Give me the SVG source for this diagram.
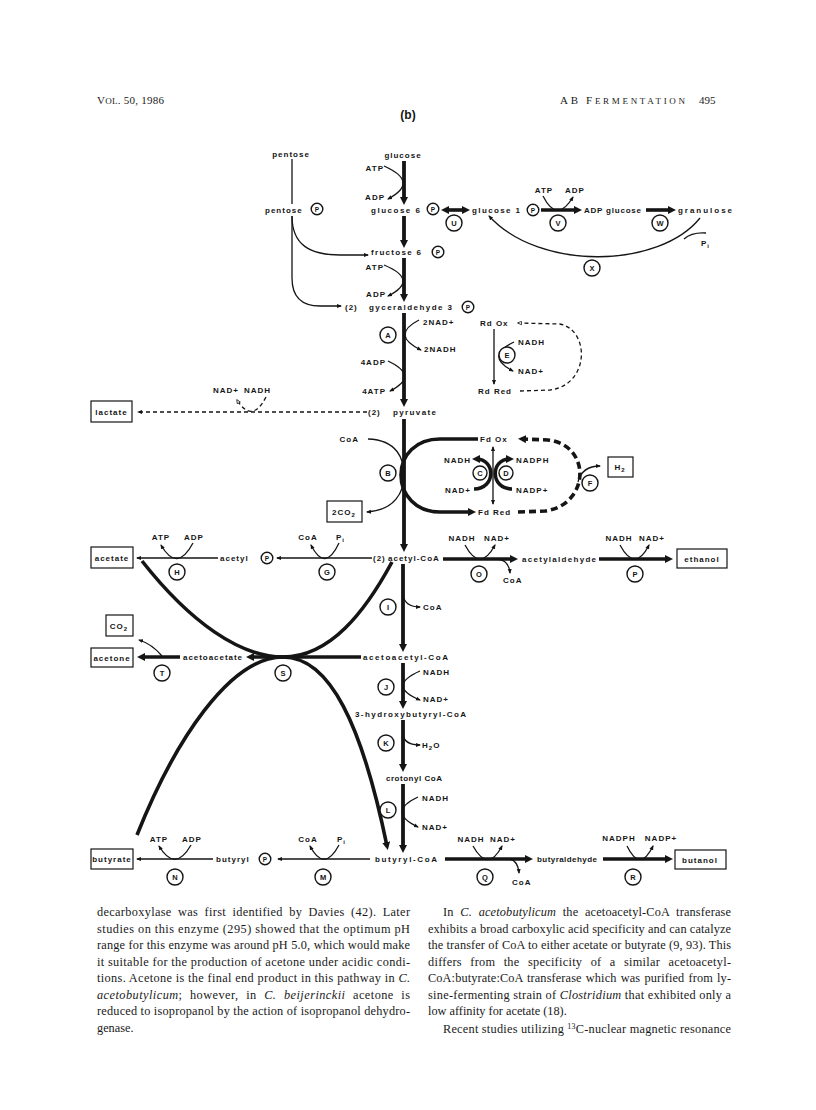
<svg xmlns="http://www.w3.org/2000/svg" width="816" height="1110" viewBox="0 0 816 1110">
<defs>
<style>
.l{font-family:"Liberation Sans",Arial,sans-serif;font-weight:bold;font-size:8px;letter-spacing:1px;fill:#151515}
.m{text-anchor:middle}
.e{text-anchor:end}
.c{fill:#fff;stroke:#151515;stroke-width:1.4}
.cl{font-family:"Liberation Sans",Arial,sans-serif;font-weight:bold;font-size:7.5px;text-anchor:middle;fill:#151515}
.pl{font-family:"Liberation Sans",Arial,sans-serif;font-weight:bold;font-size:6.5px;text-anchor:middle;fill:#151515}
.n{fill:none;stroke:#151515;stroke-width:1.3}
.k{fill:none;stroke:#151515;stroke-width:3.6}
.ax{fill:none;stroke:#151515;stroke-width:3.8}
.d{stroke-dasharray:4 3}
.kd{stroke-dasharray:7 4}
.box{fill:#fff;stroke:#151515;stroke-width:1.2}
.p{font-family:"Liberation Serif","Times New Roman",serif;font-size:12.3px;fill:#1a1a1a}
.h{font-family:"Liberation Serif","Times New Roman",serif;fill:#1a1a1a}
</style>
<marker id="as" viewBox="0 0 10 10" refX="8" refY="5" markerWidth="5" markerHeight="5" markerUnits="userSpaceOnUse" orient="auto-start-reverse"><path d="M0,1L10,5L0,9z" fill="#151515"/></marker>
<marker id="ab" viewBox="0 0 10 10" refX="5" refY="5" markerWidth="8" markerHeight="8" markerUnits="userSpaceOnUse" orient="auto-start-reverse"><path d="M0,0L10,5L0,10z" fill="#151515"/></marker>
<marker id="ao" viewBox="0 0 10 10" refX="8" refY="5" markerWidth="5" markerHeight="5" markerUnits="userSpaceOnUse" orient="auto-start-reverse"><path d="M1,1.5L9,5L1,8.5z" fill="#fff" stroke="#151515" stroke-width="1.5"/></marker>
</defs>
<rect width="816" height="1110" fill="#fff"/>

<g id="header">
<text class="h" x="97" y="104" font-size="11" textLength="67" lengthAdjust="spacing">V<tspan font-size="9">OL</tspan>. 50, 1986</text>
<text class="h" x="560" y="104" font-size="11" textLength="125" lengthAdjust="spacing">AB F<tspan font-size="9">ERMENTATION</tspan></text>
<text class="h" x="699" y="104" font-size="11">495</text>
<text x="408" y="119" font-family="Liberation Sans,Arial,sans-serif" font-weight="bold" font-size="12" text-anchor="middle" fill="#151515">(b)</text>
</g>

<g id="connectors">
<path class="ax" d="M404,161 L404,201" marker-end="url(#ab)"/>
<path class="ax" d="M404,216 L404,244" marker-end="url(#ab)"/>
<path class="ax" d="M404,258 L404,298" marker-end="url(#ab)"/>
<path class="ax" d="M404,313 L404,403" marker-end="url(#ab)"/>
<path class="ax" d="M404,419 L404,548" marker-end="url(#ab)"/>
<path class="ax" d="M403,564 L403,648" marker-end="url(#ab)"/>
<path class="ax" d="M403,663 L403,705" marker-end="url(#ab)"/>
<path class="ax" d="M403,720 L403,768" marker-end="url(#ab)"/>
<path class="ax" d="M403,784 L403,849" marker-end="url(#ab)"/>
<path class="n" d="M384,166 Q420,182 388,199" marker-end="url(#as)"/>
<path class="n" d="M384,265 Q420,280 388,296" marker-end="url(#as)"/>
<path class="n" d="M419,320 Q390,335 421,350" marker-end="url(#as)"/>
<path class="n" d="M388,361 Q420,376 390,391" marker-end="url(#as)"/>
<path class="n" d="M403,595 Q405,607 420,607" marker-end="url(#as)"/>
<path class="n" d="M420,671 Q386,686 420,700" marker-end="url(#as)"/>
<path class="n" d="M403,735 Q405,745 420,745" marker-end="url(#as)"/>
<path class="n" d="M418,797 Q386,812 418,827" marker-end="url(#as)"/>
<path class="n" d="M292,159 L292,204"/>
<path class="n" d="M292,216 C292,245 310,255 340,255 L368,255" marker-end="url(#as)"/>
<path class="n" d="M292,216 L292,278 C292,297 302,306 320,306 L341,306" marker-end="url(#as)"/>
<path class="k" d="M445,210 L466,210" marker-start="url(#ab)" marker-end="url(#ab)"/>
<path class="k" d="M541,210 L578,210" marker-end="url(#ab)"/>
<path class="n" d="M543,196 Q557,224 573,197" marker-end="url(#as)"/>
<path class="k" d="M646,210 L672,210" marker-end="url(#ab)"/>
<path class="n" d="M700,218 C660,268 540,272 489,216" marker-end="url(#as)"/>
<path class="n" d="M706,233 Q692,232 684,239"/>
<path class="n d" d="M520,391 L550,390 C590,385 590,330 560,324 L518,323" marker-end="url(#ao)"/>
<path class="n" d="M494,329 L494,384" marker-end="url(#as)"/>
<path class="n" d="M514,342 Q484,356 513,371" marker-end="url(#as)"/>
<path class="n d" d="M367,412 L138,412" marker-end="url(#as)"/>
<path class="n d" d="M266,397 Q252,424 237,400" marker-end="url(#ao)"/>
<path class="n" d="M368,439 C398,440 404,460 404,475 C404,492 395,510 367,512" marker-end="url(#as)"/>
<path class="k" d="M478,439 L440,439 C416,439 401,455 401,475 C401,495 416,512 440,512 L472,512" marker-end="url(#ab)"/>
<path class="n" d="M493,447 L493,504" stroke-width="1.5" marker-start="url(#as)" marker-end="url(#as)"/>
<path class="k" d="M474,489 C496,489 496,459 476,459" stroke-width="3" marker-end="url(#ab)"/>
<path class="k" d="M512,489 C490,489 490,459 510,459" stroke-width="3" marker-end="url(#ab)"/>
<path class="k kd" d="M518,512 L545,511 C590,505 592,445 548,440 L522,439" stroke-width="3.2" marker-end="url(#ab)"/>
<path class="n" d="M578,482 Q582,466 600,466" marker-end="url(#as)"/>
<path class="n" d="M218,558 L137,558" marker-end="url(#as)"/>
<path class="n" d="M193,543 Q177,573 161,545" marker-end="url(#as)"/>
<path class="n" d="M372,558 L277,558" marker-end="url(#as)"/>
<path class="n" d="M339,543 Q325,573 311,545" marker-end="url(#as)"/>
<path class="k" d="M443,559 L514,559" marker-end="url(#ab)"/>
<path class="n" d="M465,545 Q480,573 495,545" marker-end="url(#as)"/>
<path class="n" d="M497,559 Q509,560 510,573" marker-end="url(#as)"/>
<path class="k" d="M599,559 L669,559" marker-end="url(#ab)"/>
<path class="n" d="M620,545 Q635,573 649,545" marker-end="url(#as)"/>
<path class="k" d="M180,657 L141,657" marker-end="url(#ab)"/>
<path class="n" d="M162,656 Q152,644 139,640" marker-end="url(#as)"/>
<path class="k" d="M361,657 L250,657" marker-end="url(#ab)"/>
<path class="k" d="M142,561 C190,622 240,657 283,657 C330,657 365,612 392,562" stroke-width="4.2"/>
<path class="k" d="M137,835 C175,740 230,657 283,657 C330,657 362,725 387,846" stroke-width="4.2" marker-end="url(#ab)"/>
<path class="n" d="M213,859 L137,859" marker-end="url(#as)"/>
<path class="n" d="M191,845 Q175,873 159,846" marker-end="url(#as)"/>
<path class="n" d="M370,859 L278,859" marker-end="url(#as)"/>
<path class="n" d="M339,845 Q324,873 310,846" marker-end="url(#as)"/>
<path class="k" d="M445,859 L529,859" marker-end="url(#ab)"/>
<path class="n" d="M473,846 Q488,873 502,846" marker-end="url(#as)"/>
<path class="n" d="M510,859 Q518,861 519,873" marker-end="url(#as)"/>
<path class="k" d="M603,859 L669,859" marker-end="url(#ab)"/>
<path class="n" d="M627,846 Q640,873 653,846" marker-end="url(#as)"/>
</g>

<g id="pentose"><text class="l m" x="291" y="157">pentose</text></g>
<g id="glucose"><text class="l m" x="403" y="158">glucose</text></g>
<g id="atp1"><text class="l e" x="384" y="171">ATP</text></g>
<g id="adp1"><text class="l e" x="385" y="200">ADP</text></g>
<g id="pentose-p"><text class="l" x="265" y="213">pentose</text><circle class="c" cx="317" cy="209" r="5.8"/><text class="pl" x="317" y="211.5">P</text></g>
<g id="glucose6p"><text class="l" x="371" y="213" textLength="50">glucose 6</text><circle class="c" cx="433" cy="209" r="5.8"/><text class="pl" x="433" y="211.5">P</text></g>
<g id="glucose1p"><text class="l" x="472" y="213" textLength="49">glucose 1</text><circle class="c" cx="533" cy="210" r="5.8"/><text class="pl" x="533" y="212.5">P</text></g>
<g id="atp-v"><text class="l m" x="544" y="193">ATP</text></g>
<g id="adp-v"><text class="l m" x="575" y="193">ADP</text></g>
<g id="adpglucose"><text class="l" x="584" y="213" textLength="58">ADP glucose</text></g>
<g id="granulose"><text class="l" x="678" y="213" textLength="55">granulose</text></g>
<g id="pi-x"><text class="l" x="701" y="246">P<tspan font-size="6" dy="2">i</tspan></text></g>
<g id="fructose6p"><text class="l" x="371" y="255" textLength="51">fructose 6</text><circle class="c" cx="438" cy="252" r="5.8"/><text class="pl" x="438" y="254.5">P</text></g>
<g id="atp2"><text class="l e" x="384" y="270">ATP</text></g>
<g id="adp2"><text class="l e" x="386" y="297">ADP</text></g>
<g id="gyceraldehyde3p"><text class="l" x="345" y="310">(2)</text><text class="l" x="369" y="310" textLength="84">gyceraldehyde 3</text><circle class="c" cx="468" cy="307" r="5.8"/><text class="pl" x="468" y="309.5">P</text></g>
<g id="nad-a"><text class="l" x="423" y="325">2NAD+</text></g>
<g id="nadh-a"><text class="l" x="424" y="352">2NADH</text></g>
<g id="adp4"><text class="l e" x="386" y="365">4ADP</text></g>
<g id="atp4"><text class="l e" x="386" y="394">4ATP</text></g>
<g id="rdox"><text class="l" x="480" y="326">Rd Ox</text></g>
<g id="rdred"><text class="l" x="478" y="394">Rd Red</text></g>
<g id="nadh-e"><text class="l" x="518" y="345">NADH</text></g>
<g id="nad-e"><text class="l" x="518" y="374">NAD+</text></g>
<g id="lactate"><rect class="box" x="91" y="401" width="41" height="21"/><text class="l m" x="111.5" y="415">lactate</text></g>
<g id="nad-lac"><text class="l" x="213" y="393">NAD+</text></g>
<g id="nadh-lac"><text class="l" x="244" y="393">NADH</text></g>
<g id="pyruvate"><text class="l" x="368" y="415">(2)</text><text class="l" x="393" y="415" textLength="44">pyruvate</text></g>
<g id="coa-b"><text class="l e" x="359" y="442">CoA</text></g>
<g id="co2-b"><rect class="box" x="327" y="501" width="35" height="21"/><text class="l m" x="344" y="515">2CO<tspan font-size="6" dy="2">2</tspan></text></g>
<g id="fdox"><text class="l" x="480" y="442">Fd Ox</text></g>
<g id="fdred"><text class="l" x="478" y="515">Fd Red</text></g>
<g id="nadh-c"><text class="l e" x="471" y="463">NADH</text></g>
<g id="nad-c"><text class="l e" x="471" y="493">NAD+</text></g>
<g id="nadph-d"><text class="l" x="516" y="463">NADPH</text></g>
<g id="nadp-d"><text class="l" x="516" y="493">NADP+</text></g>
<g id="h2"><rect class="box" x="608" y="457" width="25" height="20"/><text class="l m" x="620" y="470">H<tspan font-size="6" dy="2">2</tspan></text></g>
<g id="acetate"><rect class="box" x="91" y="547" width="42" height="21"/><text class="l m" x="112" y="561">acetate</text></g>
<g id="atp-h"><text class="l m" x="161" y="540">ATP</text></g>
<g id="adp-h"><text class="l m" x="194" y="540">ADP</text></g>
<g id="acetylp"><text class="l" x="220" y="561">acetyl</text><circle class="c" cx="267" cy="558" r="5.8"/><text class="pl" x="267" y="560.5">P</text></g>
<g id="coa-g"><text class="l m" x="308" y="540">CoA</text></g>
<g id="pi-g"><text class="l" x="336" y="540">P<tspan font-size="6" dy="2">i</tspan></text></g>
<g id="acetylcoa"><text class="l" x="373" y="561">(2)</text><text class="l" x="388" y="561">acetyl-CoA</text></g>
<g id="nadh-o"><text class="l m" x="462" y="541">NADH</text></g>
<g id="nad-o"><text class="l m" x="497" y="541">NAD+</text></g>
<g id="coa-o"><text class="l" x="503" y="583">CoA</text></g>
<g id="acetylaldehyde"><text class="l" x="522" y="562" textLength="75">acetylaldehyde</text></g>
<g id="nadh-p"><text class="l m" x="619" y="541">NADH</text></g>
<g id="nad-p"><text class="l m" x="652" y="541">NAD+</text></g>
<g id="ethanol"><rect class="box" x="677" y="549" width="50" height="19"/><text class="l m" x="702" y="562">ethanol</text></g>
<g id="coa-i"><text class="l" x="423" y="610">CoA</text></g>
<g id="co2-t"><rect class="box" x="106" y="615" width="27" height="21"/><text class="l m" x="119" y="629">CO<tspan font-size="6" dy="2">2</tspan></text></g>
<g id="acetone"><rect class="box" x="91" y="648" width="42" height="19"/><text class="l m" x="112" y="661">acetone</text></g>
<g id="acetoacetate"><text class="l" x="183" y="660" textLength="60">acetoacetate</text></g>
<g id="acetoacetylcoa"><text class="l" x="363" y="660" textLength="86">acetoacetyl-CoA</text></g>
<g id="nadh-j"><text class="l" x="423" y="675">NADH</text></g>
<g id="nad-j"><text class="l" x="423" y="702">NAD+</text></g>
<g id="hydroxybutyrylcoa"><text class="l" x="355" y="717" textLength="112">3-hydroxybutyryl-CoA</text></g>
<g id="h2o"><text class="l" x="422" y="748">H<tspan font-size="6" dy="2">2</tspan><tspan dy="-2">O</tspan></text></g>
<g id="crotonylcoa"><text class="l" x="386" y="781" textLength="57">crotonyl CoA</text></g>
<g id="nadh-l"><text class="l" x="422" y="801">NADH</text></g>
<g id="nad-l"><text class="l" x="422" y="830">NAD+</text></g>
<g id="butyrate"><rect class="box" x="91" y="849" width="42" height="20"/><text class="l m" x="112" y="862">butyrate</text></g>
<g id="atp-n"><text class="l m" x="159" y="842">ATP</text></g>
<g id="adp-n"><text class="l m" x="192" y="842">ADP</text></g>
<g id="butyrylp"><text class="l" x="216" y="862">butyryl</text><circle class="c" cx="265" cy="859" r="5.8"/><text class="pl" x="265" y="861.5">P</text></g>
<g id="coa-m"><text class="l m" x="308" y="842">CoA</text></g>
<g id="pi-m"><text class="l" x="337" y="842">P<tspan font-size="6" dy="2">i</tspan></text></g>
<g id="butyrylcoa"><text class="l" x="375" y="862" textLength="63">butyryl-CoA</text></g>
<g id="nadh-q"><text class="l m" x="471" y="842">NADH</text></g>
<g id="nad-q"><text class="l m" x="503" y="842">NAD+</text></g>
<g id="coa-q"><text class="l" x="512" y="885">CoA</text></g>
<g id="butyraldehyde"><text class="l" x="537" y="862" textLength="61">butyraldehyde</text></g>
<g id="nadph-r"><text class="l m" x="619" y="841">NADPH</text></g>
<g id="nadp-r"><text class="l m" x="661" y="841">NADP+</text></g>
<g id="butanol"><rect class="box" x="675" y="850" width="51" height="19"/><text class="l m" x="700" y="863">butanol</text></g>

<g id="enzymes">
<circle class="c" cx="454" cy="223" r="8"/><text class="cl" x="454" y="225.7">U</text>
<circle class="c" cx="558" cy="223" r="8"/><text class="cl" x="558" y="225.7">V</text>
<circle class="c" cx="660" cy="223" r="8"/><text class="cl" x="660" y="225.7">W</text>
<circle class="c" cx="592" cy="268" r="8"/><text class="cl" x="592" y="270.7">X</text>
<circle class="c" cx="388" cy="335" r="8"/><text class="cl" x="388" y="337.7">A</text>
<circle class="c" cx="507" cy="355" r="8"/><text class="cl" x="507" y="357.7">E</text>
<circle class="c" cx="388" cy="473" r="8"/><text class="cl" x="388" y="475.7">B</text>
<circle class="c" cx="480" cy="473" r="7"/><text class="cl" x="480" y="475.7">C</text>
<circle class="c" cx="506" cy="473" r="7"/><text class="cl" x="506" y="475.7">D</text>
<circle class="c" cx="590" cy="483" r="8"/><text class="cl" x="590" y="485.7">F</text>
<circle class="c" cx="177" cy="572" r="8"/><text class="cl" x="177" y="574.7">H</text>
<circle class="c" cx="327" cy="572" r="8"/><text class="cl" x="327" y="574.7">G</text>
<circle class="c" cx="479" cy="574" r="8"/><text class="cl" x="479" y="576.7">O</text>
<circle class="c" cx="635" cy="574" r="8"/><text class="cl" x="635" y="576.7">P</text>
<circle class="c" cx="388" cy="607" r="8"/><text class="cl" x="388" y="609.7">I</text>
<circle class="c" cx="162" cy="673" r="8"/><text class="cl" x="162" y="675.7">T</text>
<circle class="c" cx="283" cy="673" r="8"/><text class="cl" x="283" y="675.7">S</text>
<circle class="c" cx="386" cy="687" r="8"/><text class="cl" x="386" y="689.7">J</text>
<circle class="c" cx="386" cy="743" r="8"/><text class="cl" x="386" y="745.7">K</text>
<circle class="c" cx="388" cy="810" r="8"/><text class="cl" x="388" y="812.7">L</text>
<circle class="c" cx="175" cy="877" r="8"/><text class="cl" x="175" y="879.7">N</text>
<circle class="c" cx="323" cy="877" r="8"/><text class="cl" x="323" y="879.7">M</text>
<circle class="c" cx="485" cy="877" r="8"/><text class="cl" x="485" y="879.7">Q</text>
<circle class="c" cx="633" cy="877" r="8"/><text class="cl" x="633" y="879.7">R</text>
</g>

<g id="text-left">
<text class="p" x="97" y="916" textLength="313" lengthAdjust="spacing" word-spacing="3">decarboxylase was first identified by Davies (42). Later</text>
<text class="p" x="97" y="932.5" textLength="313" lengthAdjust="spacing">studies on this enzyme (295) showed that the optimum pH</text>
<text class="p" x="97" y="949" textLength="313" lengthAdjust="spacing">range for this enzyme was around pH 5.0, which would make</text>
<text class="p" x="97" y="965.5" textLength="313" lengthAdjust="spacing">it suitable for the production of acetone under acidic condi-</text>
<text class="p" x="97" y="982" textLength="313" lengthAdjust="spacing">tions. Acetone is the final end product in this pathway in <tspan font-style="italic">C.</tspan></text>
<text class="p" x="97" y="998.5" textLength="313" lengthAdjust="spacing" word-spacing="4"><tspan font-style="italic">acetobutylicum</tspan>; however, in <tspan font-style="italic">C. beijerinckii</tspan> acetone is</text>
<text class="p" x="97" y="1015" textLength="313" lengthAdjust="spacing">reduced to isopropanol by the action of isopropanol dehydro-</text>
<text class="p" x="97" y="1031.5">genase.</text>
</g>
<g id="text-right">
<text class="p" x="443" y="916" textLength="288" lengthAdjust="spacing" word-spacing="3.5">In <tspan font-style="italic">C. acetobutylicum</tspan> the acetoacetyl-CoA transferase</text>
<text class="p" x="428" y="932.5" textLength="303" lengthAdjust="spacing">exhibits a broad carboxylic acid specificity and can catalyze</text>
<text class="p" x="428" y="949" textLength="303" lengthAdjust="spacing">the transfer of CoA to either acetate or butyrate (9, 93). This</text>
<text class="p" x="428" y="965.5" textLength="303" lengthAdjust="spacing" word-spacing="5">differs from the specificity of a similar acetoacetyl-</text>
<text class="p" x="428" y="982" textLength="303" lengthAdjust="spacing" word-spacing="1">CoA:butyrate:CoA transferase which was purified from ly-</text>
<text class="p" x="428" y="998.5" textLength="303" lengthAdjust="spacing">sine-fermenting strain of <tspan font-style="italic">Clostridium</tspan> that exhibited only a</text>
<text class="p" x="428" y="1015">low affinity for acetate (18).</text>
<text class="p" x="443" y="1033" textLength="288" lengthAdjust="spacing">Recent studies utilizing <tspan font-size="8" dy="-4">13</tspan><tspan dy="4">C-nuclear magnetic resonance</tspan></text>
</g>
</svg>
